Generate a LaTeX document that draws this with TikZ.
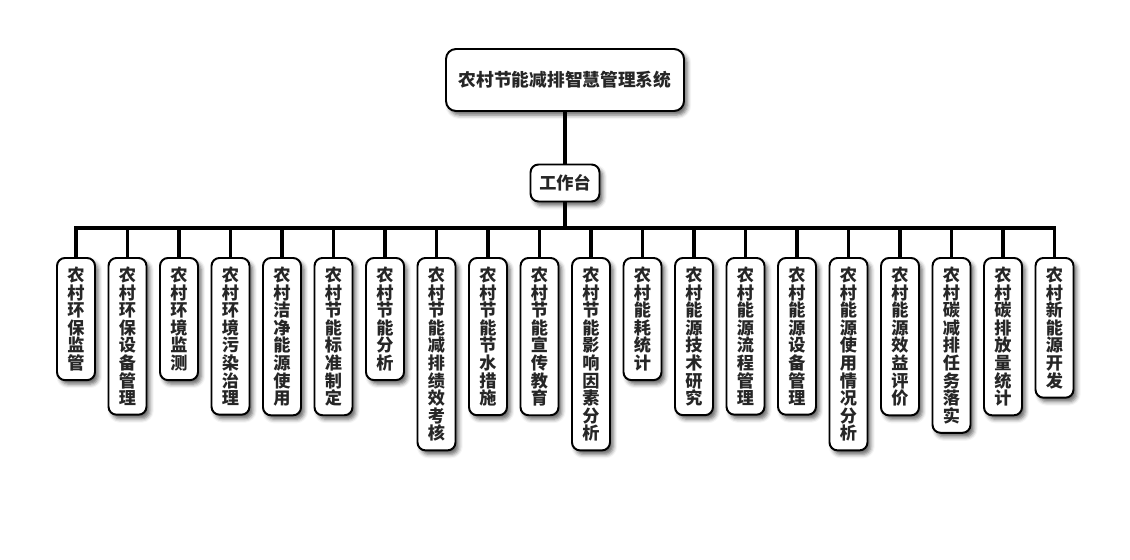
\documentclass[tikz,border=0pt]{standalone}
\usepackage{fontspec}
\newfontfamily\cjk{Noto Sans CJK SC}
\usetikzlibrary{shadows.blur}

\begin{document}
\begin{tikzpicture}[
    box/.style={
        rectangle, draw, line width=1.4pt, rounded corners=0.2cm, fill=white,
        blur shadow={shadow xshift=0.08cm, shadow yshift=-0.1cm,
                     shadow blur radius=0.1cm, shadow opacity=60},
        text=black!85, font=\cjk\bfseries\fontsize{12.2}{12.5}\selectfont
    },
    leaf/.style={
        box, anchor=north, minimum width=0.95cm,
        inner xsep=0pt, inner ysep=0.225cm, align=center
    },
    link/.style={line width=2.2pt}
]
\useasboundingbox (0,0) rectangle (28.25,-14);

\node[box, minimum width=5.95cm, minimum height=1.55cm, rounded corners=0.25cm,
      font=\cjk\bfseries\fontsize{12.6}{15}\selectfont] (root) at (14.125,-2) {农村节能减排智慧管理系统};
\node[box, minimum width=1.725cm, minimum height=0.925cm, inner xsep=0.1cm] (desk) at (14.125,-4.575) {工作台};
\coordinate (bar) at (14.125,-5.7);

\node[leaf] (hbjg)   at (1.9,-6.425)     {农\\村\\环\\保\\监\\管};
\node[leaf] (hbsb)   at (3.1875,-6.425)  {农\\村\\环\\保\\设\\备\\管\\理};
\node[leaf] (hjjc)   at (4.475,-6.425)   {农\\村\\环\\境\\监\\测};
\node[leaf] (wrzl)   at (5.7625,-6.425)  {农\\村\\环\\境\\污\\染\\治\\理};
\node[leaf] (qjny)   at (7.05,-6.425)    {农\\村\\洁\\净\\能\\源\\使\\用};
\node[leaf] (jnbz)   at (8.3375,-6.425)  {农\\村\\节\\能\\标\\准\\制\\定};
\node[leaf] (jnfx)   at (9.625,-6.425)   {农\\村\\节\\能\\分\\析};
\node[leaf] (jxkh)   at (10.9125,-6.425) {农\\村\\节\\能\\减\\排\\绩\\效\\考\\核};
\node[leaf] (jscs)   at (12.2,-6.425)    {农\\村\\节\\能\\节\\水\\措\\施};
\node[leaf] (xcjy)   at (13.4875,-6.425) {农\\村\\节\\能\\宣\\传\\教\\育};
\node[leaf] (yxys)   at (14.775,-6.425)  {农\\村\\节\\能\\影\\响\\因\\素\\分\\析};
\node[leaf] (nhtj)   at (16.0625,-6.425) {农\\村\\能\\耗\\统\\计};
\node[leaf] (jsyj)   at (17.35,-6.425)   {农\\村\\能\\源\\技\\术\\研\\究};
\node[leaf] (lcgl)   at (18.6375,-6.425) {农\\村\\能\\源\\流\\程\\管\\理};
\node[leaf] (sbgl)   at (19.925,-6.425)  {农\\村\\能\\源\\设\\备\\管\\理};
\node[leaf] (syqk)   at (21.2125,-6.425) {农\\村\\能\\源\\使\\用\\情\\况\\分\\析};
\node[leaf] (xypj)   at (22.5,-6.425)    {农\\村\\能\\源\\效\\益\\评\\价};
\node[leaf] (jpls)   at (23.7875,-6.425) {农\\村\\碳\\减\\排\\任\\务\\落\\实};
\node[leaf] (pftj)   at (25.075,-6.425)  {农\\村\\碳\\排\\放\\量\\统\\计};
\node[leaf] (xnykf)  at (26.3625,-6.425) {农\\村\\新\\能\\源\\开\\发};

\draw[link] (root) -- (desk);
\draw[link] (desk) -- (bar);
\foreach \n in {hbjg, hbsb, hjjc, wrzl, qjny, jnbz, jnfx, jxkh, jscs, xcjy,
                yxys, nhtj, jsyj, lcgl, sbgl, syqk, xypj, jpls, pftj, xnykf}
    \draw[link] (\n.north) |- (bar);

\end{tikzpicture}
\end{document}
